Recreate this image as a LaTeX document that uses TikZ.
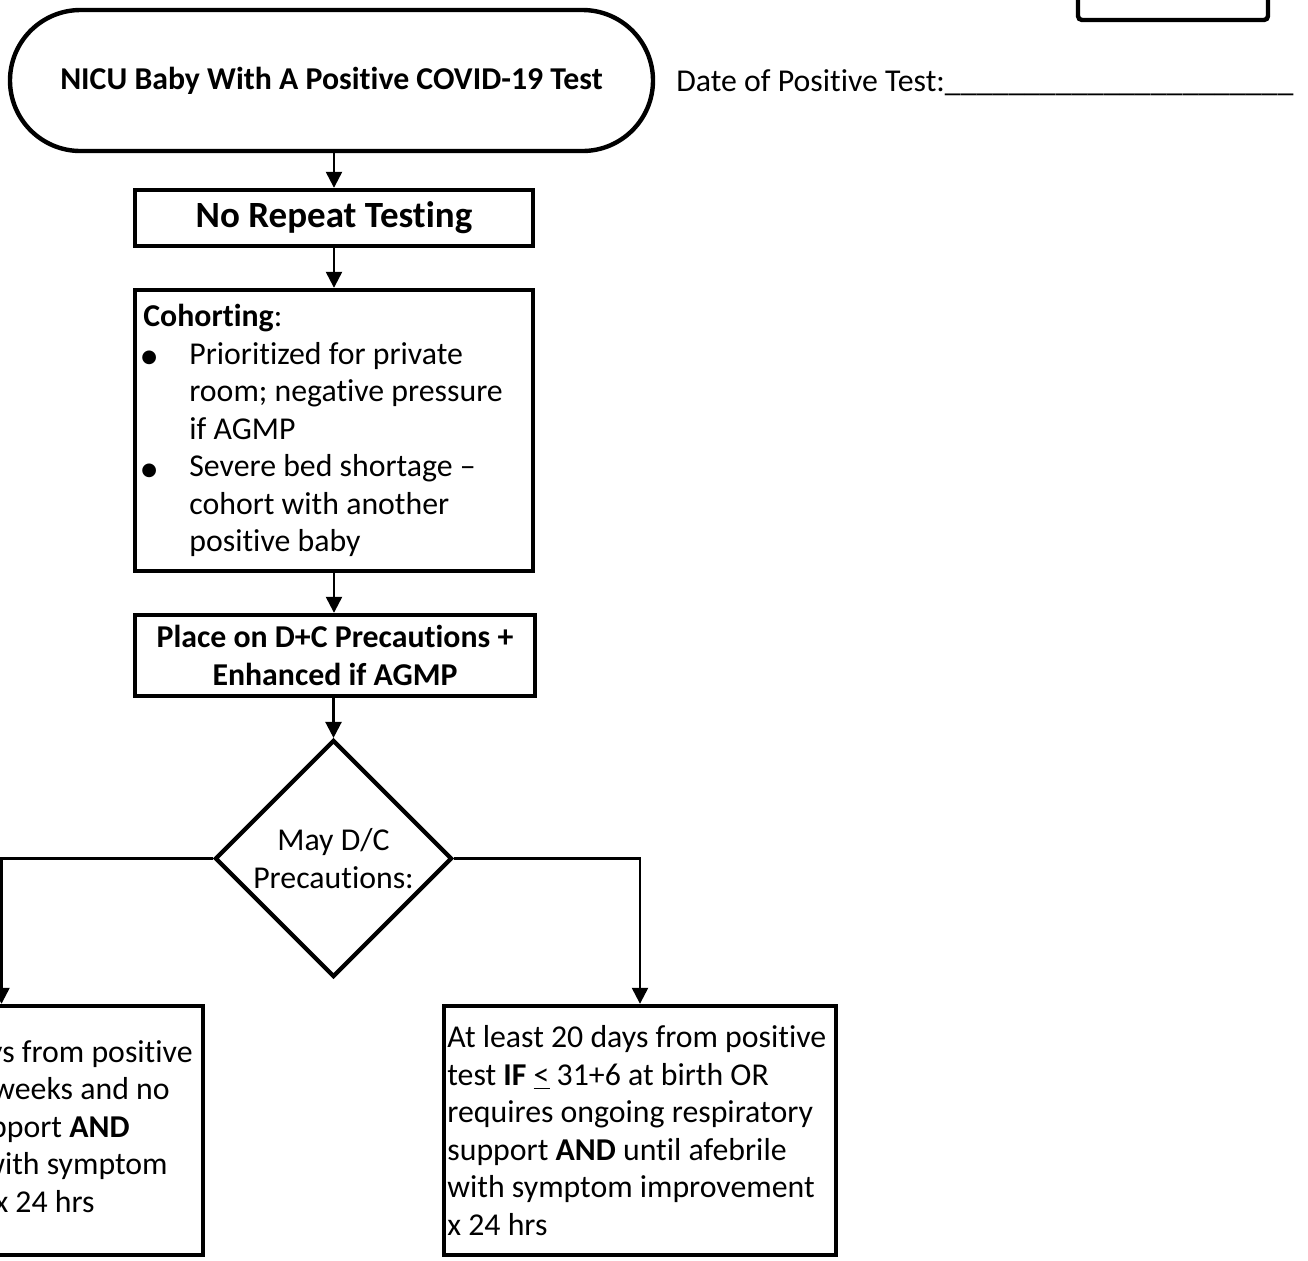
\documentclass[tikz,border=0pt]{standalone}
\usepackage{fontspec}
\setmainfont{Carlito}[Ligatures={NoCommon,NoContextual}]
\newfontfamily\symf{DejaVu Sans}
\usetikzlibrary{arrows.meta,shapes.geometric,shapes.misc}
\newcommand{\bodyfont}{\fontsize{15.9pt}{18.75pt}\selectfont}
\newcommand{\bigbold}{\fontsize{18.5pt}{22pt}\selectfont\bfseries}
\newcommand{\bul}{{\symf\fontsize{9pt}{9pt}\selectfont\raisebox{0.6pt}{●}}}
\begin{document}
\begin{tikzpicture}[x=0.5pt,y=-0.5pt,
  box/.style={draw, line width=2.2pt, rectangle, inner sep=0pt},
  txt/.style={inner sep=0pt, font=\bodyfont},
  arr/.style={line width=1.2pt, -{Triangle[length=8pt,width=8pt]}}]
\useasboundingbox (0,0) rectangle (1308,1260);
\clip (0,0) rectangle (1308,1260);

% corner box (top right, cut off)
\node[box, rounded corners=2pt, minimum width=95pt, minimum height=20pt] (corner) at (1173,0) {};

% start terminator
\node[box, rounded rectangle, minimum width=321.5pt, minimum height=70.5pt,
      font=\bodyfont\bfseries] (start) at (331.5,80.5) {NICU Baby With A Positive COVID-19 Test};

\node[txt, anchor=base west] (date) at (676,91)
  {Date of Positive Test:\_\_\_\_\_\_\_\_\_\_\_\_\_\_\_\_\_\_\_\_\_\_};

% no repeat testing
\node[box, minimum width=199pt, minimum height=28pt, font=\bigbold] (nrt) at (334,218) {No Repeat Testing};

% cohorting
\node[box, minimum width=199pt, minimum height=140.5pt] (coh) at (334,430.5) {};
\node[txt, anchor=west, align=left] (cohtext) at (143,430.5)
  {\textbf{Cohorting}:\\
   \hspace*{-1pt}\makebox[24pt][l]{\bul}Prioritized for private\\
   \hspace*{23pt}room; negative pressure\\
   \hspace*{23pt}if AGMP\\
   \hspace*{-1pt}\makebox[24pt][l]{\bul}Severe bed shortage –\\
   \hspace*{23pt}cohort with another\\
   \hspace*{23pt}positive baby};

% place on precautions
\node[box, minimum width=200pt, minimum height=40.5pt, align=center,
      font=\bodyfont\bfseries] (place) at (335,655.5) {Place on D+C Precautions +\\Enhanced if AGMP};

% decision
\node[draw, line width=2.1pt, diamond, aspect=1, inner sep=0pt, minimum width=118.5pt,
      minimum height=118.5pt, align=center, font=\bodyfont] (dia) at (333.5,858.5)
      {May D/C\\Precautions:};

% right result box
\node[box, minimum width=196pt, minimum height=124.5pt] (rbox) at (640,1130.5) {};
\node[txt, anchor=west, align=left] (rtext) at (447,1130.5)
  {At least 20 days from positive\\
   test \textbf{IF} \underline{<} 31+6 at birth OR\\
   requires ongoing respiratory\\
   support \textbf{AND} until afebrile\\
   with symptom improvement\\
   x 24 hrs};

% left result box (cut off at the picture's edge, as in the reference)
\node[box, minimum width=201.5pt, minimum height=124.5pt] (lbox) at (1.5,1130.5) {};
\node[txt, anchor=base east] (lt1) at (193,1062) {ys from positive};
\node[txt, anchor=base east] (lt2) at (170,1099.5) {weeks and no};
\node[txt, anchor=base east] (lt3) at (130,1137) {pport \textbf{AND}};
\node[txt, anchor=base east] (lt4) at (168,1174.5) {with symptom};
\node[txt, anchor=base east] (lt5) at (95,1212) {x 24 hrs};

% connectors
\draw[arr] (start.south -| nrt.north) -- (nrt.north);
\draw[arr] (nrt.south) -- (coh.north);
\draw[arr] (coh.south) -- (coh.south |- place.north);
\draw[arr] (place.south -| dia.north) -- (dia.north);
\draw[arr] (dia.west) -| (lbox.north);
\draw[arr] (dia.east) -| (rbox.north);
\end{tikzpicture}
\end{document}
